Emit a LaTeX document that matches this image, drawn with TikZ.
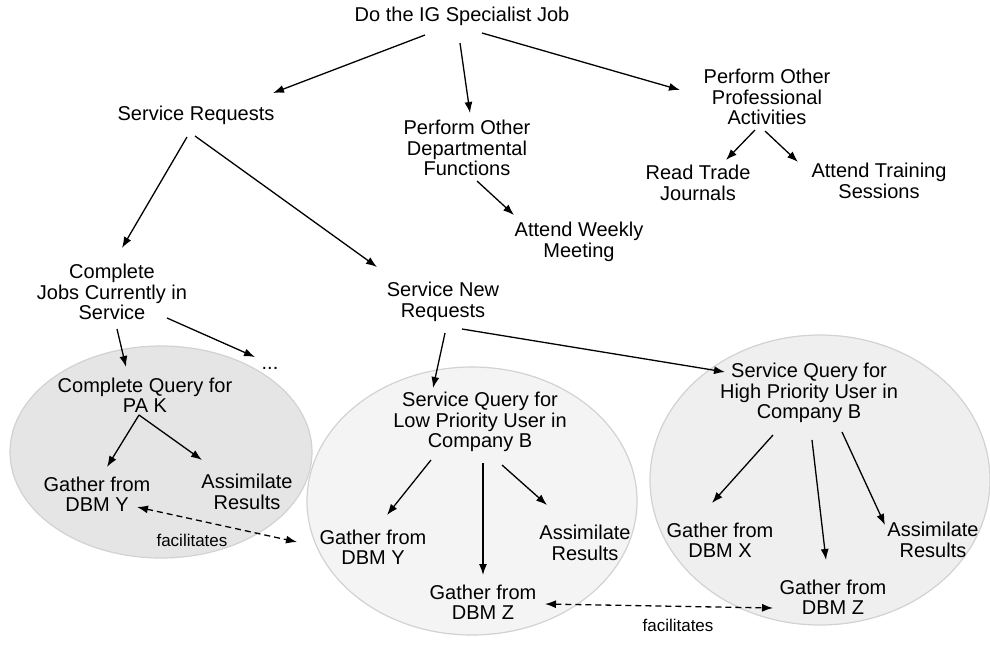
\documentclass[tikz,border=0pt]{standalone}
\usepackage{fontspec}
\setmainfont{Liberation Sans}
\usetikzlibrary{arrows.meta,shapes.geometric}
\definecolor{lfill}{HTML}{E5E5E5}
\definecolor{mfill}{HTML}{F4F4F4}
\definecolor{rfill}{HTML}{EFEFEF}
\definecolor{rimcol}{HTML}{D2D2D2}
\tikzset{
  lbl/.style={align=center, inner sep=0pt, font=\fontsize{20}{20.5}\selectfont},
  small/.style={inner sep=0pt, font=\fontsize{17}{17}\selectfont},
  conn/.style={line width=1.3pt, -{Latex[length=11pt,width=8pt]}},
  fac/.style={line width=1.3pt, dash pattern=on 6pt off 4pt, {Latex[length=11pt,width=8pt]}-{Latex[length=11pt,width=8pt]}},
  blob/.style={ellipse, draw=rimcol, line width=1.2pt, inner sep=0pt}
}
\begin{document}
\begin{tikzpicture}[x=1pt,y=-1pt]
\useasboundingbox[fill=white] (0,0) rectangle (990,646);
% ellipses
\node[blob, fill=lfill, minimum width=302pt, minimum height=212pt] (le) at (161,452) {};
\node[blob, fill=mfill, minimum width=330pt, minimum height=268pt] (me) at (472,501) {};
\node[blob, fill=rfill, minimum width=340pt, minimum height=290pt] (re) at (820,480) {};
% text nodes
\node[lbl] (top) at (462,16) {Do the IG Specialist Job};
\node[lbl] (sr) at (196,115) {Service Requests};
\node[lbl] (dep) at (467,148) {Perform Other\\Departmental\\Functions};
\node[lbl] (prof) at (767,97) {Perform Other\\Professional\\Activities};
\node[lbl] (read) at (698,183) {Read Trade\\Journals};
\node[lbl] (train) at (879,181) {Attend Training\\Sessions};
\node[lbl] (weekly) at (579,242) {Attend Weekly\\Meeting};
\node[lbl] (cj) at (112,292) {Complete\\Jobs Currently in\\Service};
\node[lbl] (snr) at (443,302) {Service New\\Requests};
\node[lbl, anchor=base] (dots) at (270,369) {...};
\node[lbl] (cq) at (145,395) {Complete Query for\\PA K};
\node[lbl] (gyl) at (97,494) {Gather from\\DBM Y};
\node[lbl] (asl) at (247,492) {Assimilate\\Results};
\node[small] (facl) at (192,540) {facilitates};
\node[lbl] (low) at (480,422) {Service Query for\\Low Priority User in\\Company B};
\node[lbl] (gym) at (373,547) {Gather from\\DBM Y};
\node[lbl] (asm) at (585,543) {Assimilate\\Results};
\node[lbl] (gzm) at (483,602) {Gather from\\DBM Z};
\node[lbl] (high) at (809,393) {Service Query for\\High Priority User in\\Company B};
\node[lbl] (gx) at (720,540) {Gather from\\DBM X};
\node[lbl] (asr) at (933,540) {Assimilate\\Results};
\node[lbl] (gzr) at (833,597) {Gather from\\DBM Z};
\node[small] (facb) at (678,625) {facilitates};
% connectors
\draw[conn] ([shift={(-37,19)}]top.center) -- ([shift={(77,-22)}]sr.center);
\draw[conn] ([shift={(-2,27)}]top.center) -- ([shift={(3,-35)}]dep.center);
\draw[conn] ([shift={(20,17)}]top.center) -- ([shift={(-87,-7)}]prof.center);
\draw[conn] ([shift={(-9,22)}]sr.center) -- ([shift={(10,-44)}]cj.center);
\draw[conn] ([shift={(-1,21)}]sr.center) -- ([shift={(-66,-35)}]snr.center);
\draw[conn] ([shift={(10,33)}]dep.center) -- ([shift={(-65,-27)}]weekly.center);
\draw[conn] ([shift={(-12,33)}]prof.center) -- ([shift={(28,-23)}]read.center);
\draw[conn] ([shift={(-2,34)}]prof.center) -- ([shift={(-81,-19)}]train.center);
\draw[conn] ([shift={(5,37)}]cj.center) -- ([shift={(-19,-28)}]cq.center);
\draw[conn] ([shift={(55,26)}]cj.center) -- ([shift={(-15,-12)}]dots.base);
\draw[conn] ([shift={(2,31)}]snr.center) -- ([shift={(-47,-34)}]low.center);
\draw[conn] ([shift={(19,27)}]snr.center) -- ([shift={(-84,-21)}]high.center);
\draw[conn] ([shift={(-6,20)}]cq.center) -- ([shift={(10,-27)}]gyl.center);
\draw[conn] ([shift={(-6,20)}]cq.center) -- ([shift={(-45,-32)}]asl.center);
\draw[conn] ([shift={(-49,38)}]low.center) -- ([shift={(14,-32)}]gym.center);
\draw[conn] ([shift={(3,41)}]low.center) -- ([shift={(0,-27)}]gzm.center);
\draw[conn] ([shift={(22,43)}]low.center) -- ([shift={(-38,-38)}]asm.center);
\draw[conn] ([shift={(-36,42)}]high.center) -- ([shift={(-8,-37)}]gx.center);
\draw[conn] ([shift={(3,47)}]high.center) -- ([shift={(-7,-37)}]gzr.center);
\draw[conn] ([shift={(33,39)}]high.center) -- ([shift={(-48,-15)}]asr.center);
\draw[fac] ([shift={(40,13)}]gyl.center) -- ([shift={(-76,-5)}]gym.center);
\draw[fac] ([shift={(62,2)}]gzm.center) -- ([shift={(-60,11)}]gzr.center);
\end{tikzpicture}
\end{document}
